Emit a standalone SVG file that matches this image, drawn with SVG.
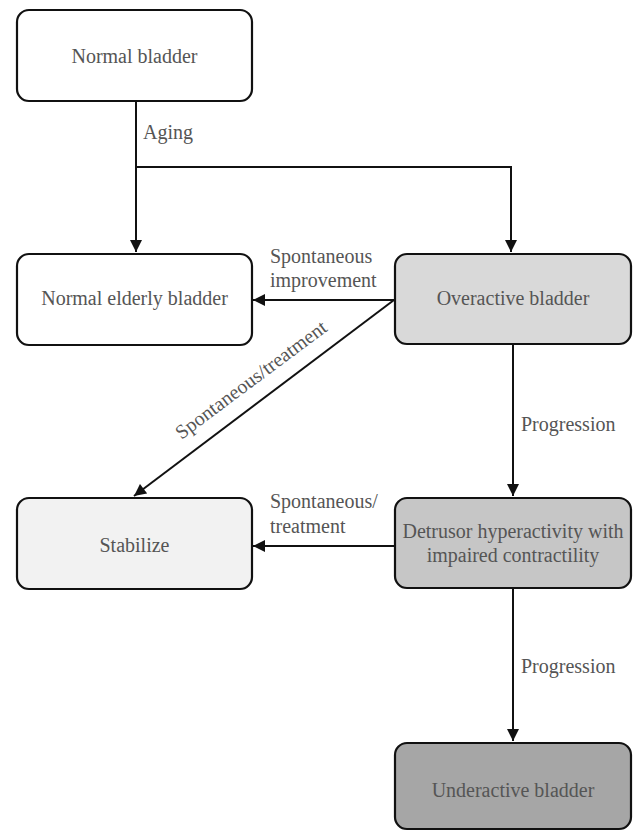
<svg xmlns="http://www.w3.org/2000/svg" width="633" height="831" viewBox="0 0 633 831">
<defs>
<style>
.box{stroke:#111;stroke-width:2.2}
.t{font-family:"Liberation Serif","Times New Roman",serif;font-size:20px;fill:#555}
.c{text-anchor:middle}
.ln{fill:none;stroke:#111;stroke-width:2}
</style>
<marker id="ah" viewBox="0 0 10 10" refX="10" refY="5" markerWidth="6.5" markerHeight="6" orient="auto" markerUnits="strokeWidth">
<path d="M0,0 L10,5 L0,10 Z" fill="#111"/>
</marker>
</defs>
<rect width="633" height="831" fill="#fff"/>
<g id="connectors">
<path class="ln" d="M136,101 V252" marker-end="url(#ah)"/>
<path class="ln" d="M136,167 H511 V252" marker-end="url(#ah)"/>
<path class="ln" d="M394,300 H253" marker-end="url(#ah)"/>
<path class="ln" d="M394,300 L134,496" marker-end="url(#ah)"/>
<path class="ln" d="M513,345 V496" marker-end="url(#ah)"/>
<path class="ln" d="M394,546 H253" marker-end="url(#ah)"/>
<path class="ln" d="M513,589 V741" marker-end="url(#ah)"/>
<text class="t" x="143" y="139">Aging</text>
<text class="t" x="270" y="263">Spontaneous</text>
<text class="t" x="270" y="287">improvement</text>
<text class="t c" transform="translate(255,385) rotate(-36.8)">Spontaneous/treatment</text>
<text class="t" x="521" y="431">Progression</text>
<text class="t" x="270" y="508">Spontaneous/</text>
<text class="t" x="270" y="533">treatment</text>
<text class="t" x="521" y="673">Progression</text>
</g>
<g id="normal-bladder">
<rect class="box" x="17" y="10" width="235" height="91" rx="12" fill="#fff"/>
<text class="t c" x="134.5" y="63">Normal bladder</text>
</g>
<g id="normal-elderly-bladder">
<rect class="box" x="17" y="254" width="235" height="91" rx="12" fill="#fff"/>
<text class="t c" x="134.5" y="305">Normal elderly bladder</text>
</g>
<g id="overactive-bladder">
<rect class="box" x="395" y="254" width="236" height="90" rx="12" fill="#d9d9d9"/>
<text class="t c" x="513" y="305">Overactive bladder</text>
</g>
<g id="stabilize">
<rect class="box" x="17" y="498" width="235" height="91" rx="12" fill="#f2f2f2"/>
<text class="t c" x="134.5" y="552">Stabilize</text>
</g>
<g id="detrusor">
<rect class="box" x="395" y="498" width="236" height="90" rx="12" fill="#c6c6c6"/>
<text class="t c" x="513" y="538">Detrusor hyperactivity with</text>
<text class="t c" x="513" y="562">impaired contractility</text>
</g>
<g id="underactive-bladder">
<rect class="box" x="395" y="743" width="236" height="86" rx="12" fill="#a6a6a6"/>
<text class="t c" x="513" y="797">Underactive bladder</text>
</g>
</svg>
